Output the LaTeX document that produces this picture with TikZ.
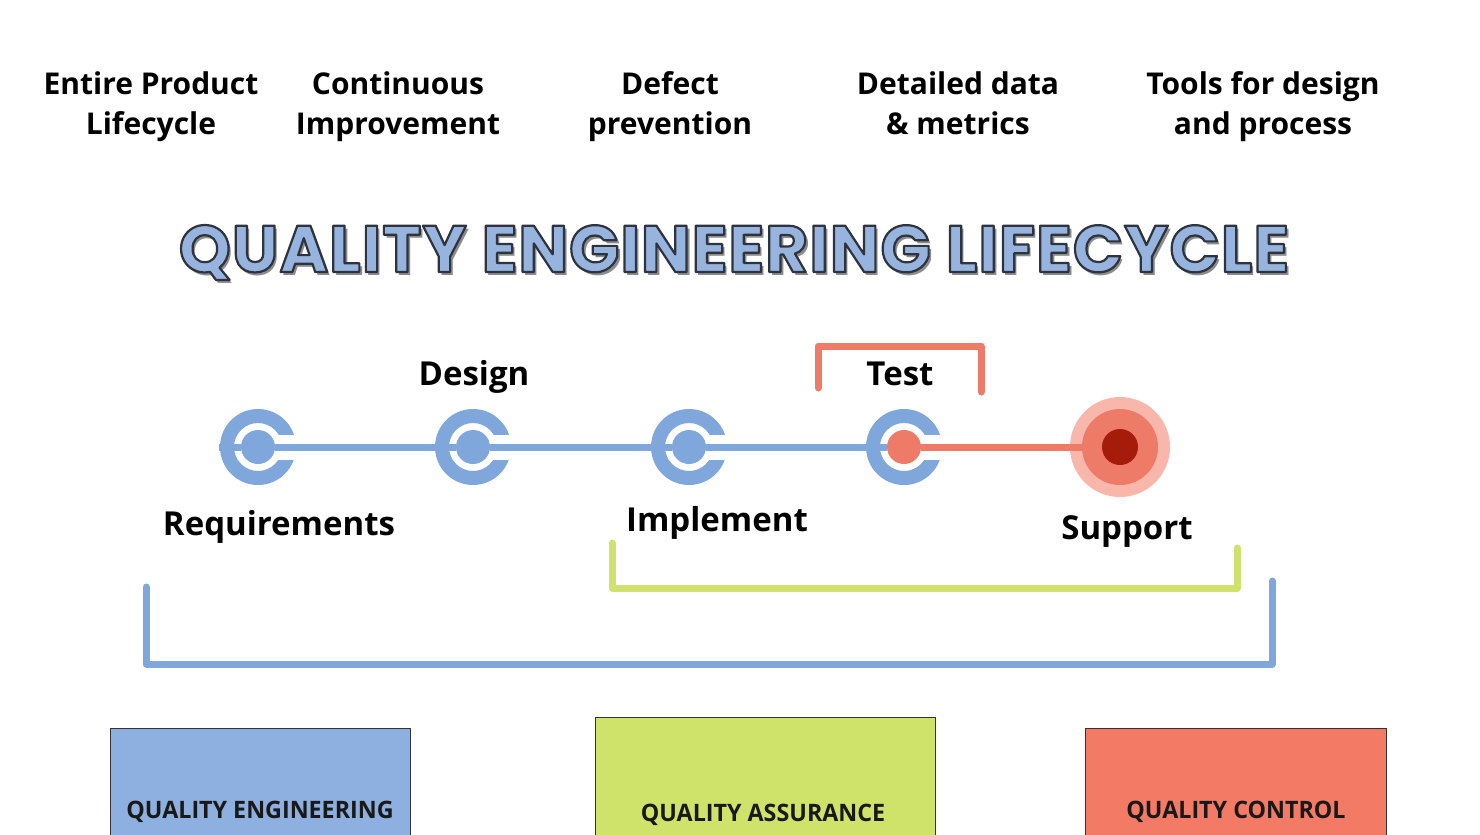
\documentclass[tikz,border=0pt]{standalone}
\usepackage{fontspec}
\setmainfont{Open Sans}
\newfontfamily\titlefont{Poppins}[LetterSpace=1.6]
\usetikzlibrary{calc}
\definecolor{qblue}{RGB}{128,167,220}
\definecolor{boxblue}{RGB}{141,176,224}
\definecolor{qgreen}{RGB}{208,225,110}
\definecolor{boxgreen}{RGB}{207,227,106}
\definecolor{qsalmon}{RGB}{238,122,104}
\definecolor{boxsalmon}{RGB}{243,122,100}
\definecolor{qpink}{RGB}{249,182,170}
\definecolor{qdark}{RGB}{166,28,10}
\definecolor{titlefill}{RGB}{150,180,222}
\tikzset{
  toplabel/.style={font=\bfseries\fontsize{30}{39}\selectfont, text=black, anchor=base, inner sep=0pt},
  steplabel/.style={font=\bfseries\fontsize{33}{40}\selectfont, text=black, anchor=base, inner sep=0pt},
  dotnode/.style={circle, inner sep=0pt, minimum size=34pt},
  bar/.style={line width=7pt},
  bracket/.style={line width=7pt, line cap=round, line join=round},
  qbox/.style={draw=black!80, line width=0.8pt},
  boxtext/.style={font=\bfseries\fontsize{24}{28}\selectfont, text=black!90, anchor=base, inner sep=0pt},
  titletext/.style={font=\titlefont\bfseries\fontsize{66}{70}\selectfont, anchor=base, inner sep=0pt},
}
\newcommand\cring[1]{%
  \fill[qblue, even odd rule] (#1) circle (38pt) circle (24pt);
  \fill[white] ($(#1)+(0,-12.5)$) rectangle ($(#1)+(42,12.5)$);
}
\begin{document}
\begin{tikzpicture}[x=1pt, y=-1pt]
\useasboundingbox (0,0) rectangle (1480,835);
\fill[white] (0,0) rectangle (1480,835);

% top labels
\node[toplabel] (t1a) at (151,94) {Entire Product};
\node[toplabel] (t1b) at (151,134) {Lifecycle};
\node[toplabel] (t2a) at (398,94) {Continuous};
\node[toplabel] (t2b) at (398,134) {Improvement};
\node[toplabel] (t3a) at (670,94) {Defect};
\node[toplabel] (t3b) at (670,134) {prevention};
\node[toplabel] (t4a) at (958,94) {Detailed data};
\node[toplabel] (t4b) at (958,134) {\& metrics};
\node[toplabel] (t5a) at (1263,94) {Tools for design};
\node[toplabel] (t5b) at (1263,134) {and process};

% brackets
\draw[bracket, qsalmon] (818,388) -- (818,346) -- (981,346) -- (981,392);
\draw[bracket, qgreen] (612,543) -- (612,588) -- (1237,588) -- (1237,548);
\draw[bracket, qblue] (146,587) -- (146,664) -- (1272,664) -- (1272,581);

% rings
\cring{258,447}
\cring{473,447}
\cring{689,447}
\cring{904,447}

% support target
\node[dotnode, fill=qpink, minimum size=100pt] (sup) at (1120,447) {};
\node[dotnode, fill=qsalmon, minimum size=76pt] (supmid) at (1120,447) {};

% dots
\node[dotnode, fill=qblue] (d1) at (258,447) {};
\node[dotnode, fill=qblue] (d2) at (473,447) {};
\node[dotnode, fill=qblue] (d3) at (689,447) {};
\node[dotnode, fill=qsalmon] (d4) at (904,447) {};
\node[dotnode, fill=qdark, minimum size=36pt] (d5) at (1120,447) {};
\coordinate (stub) at (219,447);

% connectors
\draw[bar, qblue] (stub) -- (d1);
\draw[bar, qblue] (d1) -- (d2);
\draw[bar, qblue] (d2) -- (d3);
\draw[bar, qblue] (d3) -- (d4);
\draw[bar, qsalmon] (d4) -- (supmid);

% step labels
\node[steplabel] (l2) at (474,385) {Design};
\node[steplabel] (l4) at (900,385) {Test};
\node[steplabel] (l1) at (279,535) {Requirements};
\node[steplabel] (l3) at (717,531) {Implement};
\node[steplabel] (l5) at (1127,539) {Support};

% boxes
\filldraw[qbox, fill=boxblue] (110,845) -- (110,728) -- (410,728) -- (410,845);
\filldraw[qbox, fill=boxgreen] (595,845) -- (595,717) -- (935,717) -- (935,845);
\filldraw[qbox, fill=boxsalmon] (1085,845) -- (1085,728) -- (1386,728) -- (1386,845);
\node[boxtext] (b1) at (260,818) {\scalebox{0.97}[1]{QUALITY ENGINEERING}};
\node[boxtext] (b2) at (763,821) {\scalebox{0.97}[1]{QUALITY ASSURANCE}};
\node[boxtext] (b3) at (1236,818) {\scalebox{0.97}[1]{QUALITY CONTROL}};

% title (last, with outline render mode)
\node[titletext, text=black!45] (tshadow) at (737,275) {QUALITY ENGINEERING LIFECYCLE};
\node[titletext, text=titlefill] (title) at (734,272) {\special{pdf:code 2 Tr 2.2 w 1 j 0.18 0.2 0.24 RG}QUALITY ENGINEERING LIFECYCLE\special{pdf:code 0 Tr 0.4 w 0 G}};
\end{tikzpicture}
\end{document}
